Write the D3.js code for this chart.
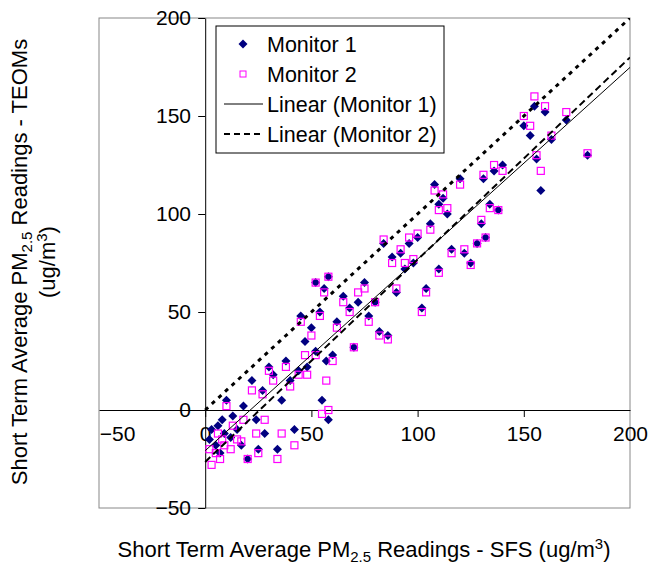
<!DOCTYPE html>
<html>
<head>
<meta charset="utf-8">
<script src="https://cdn.jsdelivr.net/npm/d3@7"></script>
<style>
body { margin: 0; background: #fff; }
text { font-family: "Liberation Sans", Arial, sans-serif; }
</style>
</head>
<body>
<svg id="chart" width="649" height="565"></svg>
<script>
// SFS readings (x) and TEOM readings for each monitor
var sfs = [2,3,5,6,7,8,9,10,12,13,15,17,18,20,22,24,25,27,28,30,32,34,36,38,40,42,44,45,47,48,
  50,52,54,55,57,58,60,52,56,58,62,65,68,70,72,75,77,80,82,84,86,88,90,92,94,96,98,100,102,104,
  106,108,110,110,112,114,116,120,122,125,128,130,131,132,134,136,138,140,150,153,155,156,158,160,163,170,180];
var monitor1 = [-15,-10,-18,-8,-22,-5,-12,5,-14,-3,-10,-18,2,-25,15,-5,-20,10,-12,22,18,-20,5,25,15,-10,20,48,35,22,
  42,30,50,5,25,-5,28,65,62,68,45,58,52,32,55,65,48,55,40,85,38,78,60,80,72,85,75,88,52,62,
  95,115,105,72,108,100,82,118,80,75,85,95,118,88,105,122,102,125,145,140,155,128,112,152,138,148,130];
var monitor2 = [-20,-28,-22,-12,-25,-15,-18,2,-20,-8,-15,-16,-5,-25,10,-12,-22,8,-5,20,15,-25,-12,22,12,-18,18,45,28,18,
  38,28,48,-2,15,0,25,65,60,68,42,55,50,32,60,62,45,55,38,87,36,75,62,82,75,88,77,90,50,60,
  92,112,102,70,110,103,80,115,82,74,85,97,120,88,103,125,102,122,150,145,160,130,122,155,140,152,131];
var xTicks = [-50, 0, 50, 100, 150, 200];
var yTicks = [-50, 0, 50, 100, 150, 200];

function fit(xs, ys) {
  var mx = d3.mean(xs), my = d3.mean(ys), sxy = 0, sxx = 0;
  xs.forEach(function (v, i) { sxy += (v - mx) * (ys[i] - my); sxx += (v - mx) * (v - mx); });
  var b = sxy / sxx;
  return { b: b, a: my - b * mx };
}

var svg = d3.select("#chart");
var pl = 99, pr = 630, pt = 18, pb = 508;

var x = d3.scaleLinear().domain([-50, 200]).range([pl, pr]);
var y = d3.scaleLinear().domain([-50, 200]).range([pb, pt]);

svg.append("rect")
    .attr("x", pl).attr("y", pt)
    .attr("width", pr - pl).attr("height", pb - pt)
    .attr("fill", "none").attr("stroke", "#888").attr("stroke-width", 1);

svg.append("defs").append("clipPath").attr("id", "clip")
  .append("rect").attr("x", pl).attr("y", pt).attr("width", pr - pl).attr("height", pb - pt);

var xAxis = svg.append("g")
    .attr("transform", "translate(0," + y(0) + ")")
    .call(d3.axisBottom(x).tickValues(xTicks).tickSize(7).tickSizeOuter(0).tickFormat(d3.format("d")));
xAxis.select(".domain").attr("stroke", "#000");
xAxis.selectAll("text").attr("font-size", 21).attr("dy", "1.0em");
xAxis.selectAll(".tick").filter(function (d) { return d === -50 || d === 200; }).select("line").remove();
xAxis.selectAll(".tick").filter(function (d) { return d === -50; }).select("text").attr("dx", 18);

var yAxis = svg.append("g")
    .attr("transform", "translate(" + x(0) + ",0)")
    .call(d3.axisLeft(y).tickValues(yTicks).tickSize(7).tickSizeOuter(0).tickFormat(d3.format("d")));
yAxis.select(".domain").attr("stroke", "#000");
yAxis.selectAll("text").attr("font-size", 21).attr("dx", "-0.2em");

var plot = svg.append("g").attr("clip-path", "url(#clip)");

var diamond = "M0,-4.5L4.5,0L0,4.5L-4.5,0Z";
plot.selectAll(".m1")
    .data(sfs)
  .enter().append("path")
    .attr("transform", function (d, i) { return "translate(" + x(d) + "," + y(monitor1[i]) + ")"; })
    .attr("d", diamond)
    .attr("fill", "#000080");

plot.selectAll(".m2")
    .data(sfs)
  .enter().append("rect")
    .attr("x", function (d) { return x(d) - 3.5; })
    .attr("y", function (d, i) { return y(monitor2[i]) - 3.5; })
    .attr("width", 7).attr("height", 7)
    .attr("fill", "none").attr("stroke", "#ff00ff").attr("stroke-width", 1.2);

var f1 = fit(sfs, monitor1), f2 = fit(sfs, monitor2);
function trend(f, dash, w) {
  plot.append("line")
      .attr("x1", x(0)).attr("y1", y(f.a))
      .attr("x2", x(200)).attr("y2", y(f.a + f.b * 200))
      .attr("stroke", "#000").attr("stroke-width", w)
      .attr("stroke-dasharray", dash);
}
trend(f1, null, 1);
trend(f2, "7,4", 2);
trend({ a: 0, b: 1 }, "4,5", 3);

// legend
var lg = svg.append("g").attr("transform", "translate(216,26)");
lg.append("rect").attr("width", 228).attr("height", 127)
    .attr("fill", "#fff").attr("stroke", "#000");
var names = ["Monitor 1", "Monitor 2", "Linear (Monitor 1)", "Linear (Monitor 2)"];
names.forEach(function (n, i) {
  var cy = 18 + i * 30;
  lg.append("text").attr("x", 51).attr("y", cy + 8).attr("font-size", 21.5).text(n);
});
lg.append("path").attr("transform", "translate(27,18)").attr("d", diamond).attr("fill", "#000080");
lg.append("rect").attr("x", 24).attr("y", 45).attr("width", 6).attr("height", 6)
    .attr("fill", "none").attr("stroke", "#ff00ff");
lg.append("line").attr("x1", 8).attr("x2", 47).attr("y1", 78).attr("y2", 78).attr("stroke", "#000");
lg.append("line").attr("x1", 8).attr("x2", 47).attr("y1", 108).attr("y2", 108)
    .attr("stroke", "#000").attr("stroke-width", 2).attr("stroke-dasharray", "6,4");

// axis titles
var xt = svg.append("text").attr("x", 364).attr("y", 557).attr("text-anchor", "middle").attr("font-size", 22);
xt.append("tspan").text("Short Term Average PM");
xt.append("tspan").attr("font-size", 15).attr("dy", 5).text("2.5");
xt.append("tspan").attr("dy", -5).text(" Readings - SFS (ug/m");
xt.append("tspan").attr("font-size", 15).attr("dy", -8).text("3");
xt.append("tspan").attr("dy", 8).text(")");

var yt = svg.append("text").attr("transform", "translate(27,262) rotate(-90)").attr("text-anchor", "middle").attr("font-size", 22);
yt.append("tspan").text("Short Term Average PM");
yt.append("tspan").attr("font-size", 15).attr("dy", 5).text("2.5");
yt.append("tspan").attr("dy", -5).text(" Readings - TEOMs");

var yt2 = svg.append("text").attr("transform", "translate(55,262) rotate(-90)").attr("text-anchor", "middle").attr("font-size", 22);
yt2.append("tspan").text("(ug/m");
yt2.append("tspan").attr("font-size", 15).attr("dy", -8).text("3");
yt2.append("tspan").attr("dy", 8).text(")");
</script>
</body>
</html>
